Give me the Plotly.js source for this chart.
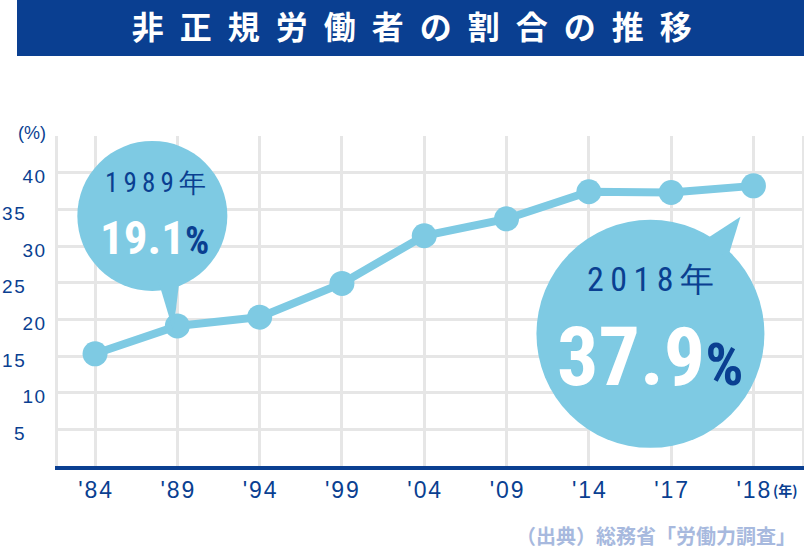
<!DOCTYPE html>
<html>
<head>
<meta charset="utf-8">
<script src="https://cdn.plot.ly/plotly-3.0.1.min.js"></script>
<style>
  html, body { margin: 0; padding: 0; background: #fff; }
  #chart { width: 804px; height: 553px; }
</style>
</head>
<body>
<div id="chart"></div>
<script>
// 非正規労働者の割合 (%)
const years = ["'84", "'89", "'94", "'99", "'04", "'09", "'14", "'17", "'18"];
const shares = [15.3, 19.1, 20.3, 24.9, 31.4, 33.7, 37.4, 37.3, 38.2];

// the artwork staggers the y labels: tens on one column, fives further left
const yTicksTens = [10, 20, 30, 40, 45];
const yTextTens = ["10", "20", "30", "40", ""];
const yTicksFives = [5, 15, 25, 35];
const yTextFives = ["5", "15", "25", "35"];

const calloutYear = ["1989年", "2018年"];
const calloutValue = ["19.1", "37.9"];
const calloutIndex = [1, 8];

const DARK = "#0a3f91";
const SKY = "#7ecae3";
const GRID = "#e6e6e6";
const NARROW = "Roboto Condensed, Roboto, sans-serif";
const LATIN = "Liberation Sans, Arial, sans-serif";
const JP = "Noto Sans CJK JP, sans-serif";

// callout geometry, pixels relative to the anchored point (up = +)
const bubbles = [
  { cx: [-100, 50], cy: [35, 185], tail: "M -19 45 L -4 -5 L 2 45 Z",
    yearShift: [-22, 143], yearSize: 27, valShift: [-23, 88], valSize: 47, pctSize: 38 },
  { cx: [-217, 11], cy: [-262, -34], tail: "M -50 -55 L -13 -31 L -26 -73 Z",
    yearShift: [-103, -93], yearSize: 34, valShift: [-103, -171], valSize: 82, pctSize: 60 }
];

function spaced(t) {
  return t.split("").join("\u200a");
}

const yTickFont = { family: LATIN, size: 19, color: DARK };

const shapes = [
  { type: "rect", xref: "paper", yref: "paper", x0: -0.0551, x1: 1.01, y0: 1.2424, y1: 1.42,
    fillcolor: "#0a3f91", line: { width: 0 }, layer: "above" }
];
const annotations = [];

calloutIndex.forEach(function (idx, i) {
  const b = bubbles[i];
  const ax = idx, ay = shares[idx];
  shapes.push({ type: "circle", xref: "x", yref: "y", xsizemode: "pixel", ysizemode: "pixel",
    xanchor: ax, yanchor: ay, x0: b.cx[0], x1: b.cx[1], y0: b.cy[0], y1: b.cy[1],
    fillcolor: SKY, line: { width: 0 }, layer: "above" });
  shapes.push({ type: "path", xref: "x", yref: "y", xsizemode: "pixel", ysizemode: "pixel",
    xanchor: ax, yanchor: ay, path: b.tail,
    fillcolor: SKY, line: { width: 0 }, layer: "above" });
  annotations.push({ x: ax, y: ay, xref: "x", yref: "y", showarrow: false,
    xshift: b.yearShift[0], yshift: b.yearShift[1],
    text: calloutYear[i].split("").join("\u2009"),
    font: { family: NARROW, size: b.yearSize, color: DARK } });
  annotations.push({ x: ax, y: ay, xref: "x", yref: "y", showarrow: false,
    xshift: b.valShift[0], yshift: b.valShift[1],
    text: "<b>" + calloutValue[i] + "</b><b><span style='font-size:" + b.pctSize + "px;color:" + DARK + "'>%</span></b>",
    font: { family: NARROW, size: b.valSize, color: "#ffffff" } });
});

// second column of y labels, placed on the y scale
yTicksFives.forEach(function (v, i) {
  annotations.push({ xref: "paper", yref: "y", x: -0.042, y: v, xanchor: "right", yanchor: "middle",
    yshift: -4, showarrow: false, text: spaced(yTextFives[i]), font: yTickFont });
});

annotations.push({ xref: "paper", yref: "paper", x: -0.056, y: 1.01, xanchor: "left", yanchor: "middle",
  showarrow: false, text: "(%)", font: { family: LATIN, size: 18, color: DARK } });
annotations.push({ xref: "paper", yref: "paper", x: 0.978, y: -0.072, xanchor: "center", yanchor: "middle",
  showarrow: false, text: "(年)", font: { family: JP, size: 14, color: DARK, weight: "bold" } });
annotations.push({ xref: "paper", yref: "paper", x: 0.994, y: -0.212, xanchor: "right", yanchor: "middle",
  showarrow: false, text: "（出典）総務省「労働力調査」",
  font: { family: JP, size: 20, color: "#a7b9de", weight: "bold" } });

const trace = {
  x: years.map(function (_, i) { return i; }),
  y: shares,
  type: "scatter",
  mode: "lines+markers",
  line: { color: SKY, width: 8 },
  marker: { color: SKY, size: 25 },
  hoverinfo: "skip",
  cliponaxis: false
};

const layout = {
  width: 804,
  height: 553,
  margin: { l: 58, r: 2, t: 136, b: 87 },
  paper_bgcolor: "#ffffff",
  plot_bgcolor: "#ffffff",
  showlegend: false,
  title: {
    text: "非正規労働者の割合の推移".split("").join("\u2002"),
    font: { family: JP, size: 32, color: "#ffffff", weight: "bold" },
    xref: "container", yref: "container", x: 0.512, y: 0.949, xanchor: "center", yanchor: "middle"
  },
  xaxis: {
    range: [-0.45, 8.59],
    tickvals: years.map(function (_, i) { return i; }),
    ticktext: years.map(spaced),
    showgrid: true, gridcolor: GRID, gridwidth: 3,
    showline: true, linecolor: DARK, linewidth: 4,
    zeroline: false, ticks: "",
    tickfont: { family: LATIN, size: 23, color: DARK },
    fixedrange: true
  },
  yaxis: {
    range: [0, 45],
    tickvals: yTicksTens.concat(yTicksFives),
    ticktext: yTextTens.map(spaced).concat(yTicksFives.map(function () { return ""; })),
    showgrid: true, gridcolor: GRID, gridwidth: 3,
    showline: true, linecolor: GRID, linewidth: 3, mirror: true,
    zeroline: false, ticks: "",
    ticklabelstandoff: 6,
    ticklabelshift: 4,
    tickfont: yTickFont,
    fixedrange: true
  },
  shapes: shapes,
  annotations: annotations
};

Plotly.newPlot("chart", [trace], layout, { displayModeBar: false, staticPlot: true });
</script>
</body>
</html>
